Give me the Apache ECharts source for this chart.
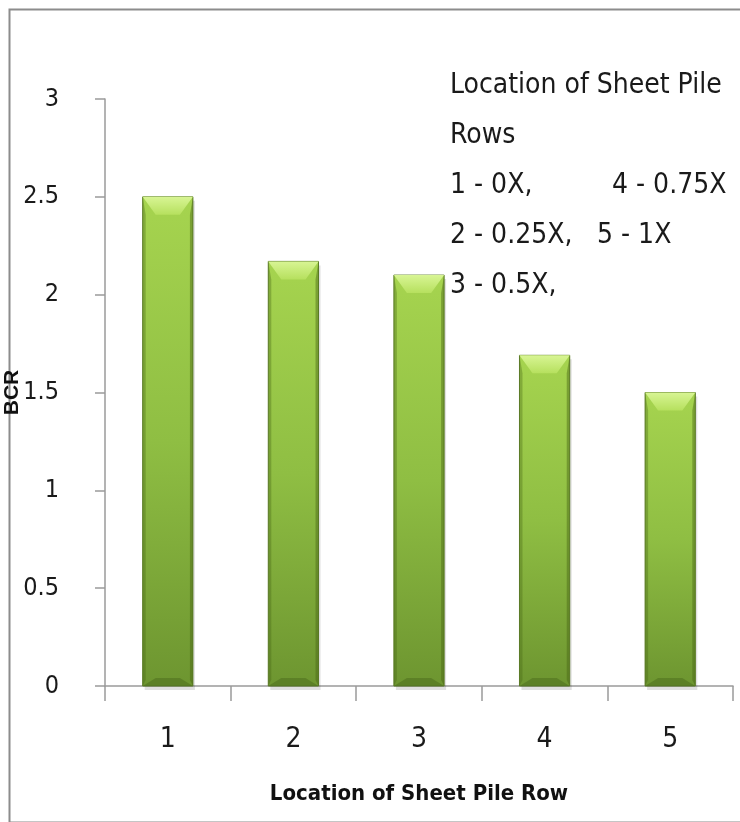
<!DOCTYPE html>
<html>
<head>
<meta charset="utf-8">
<script src="https://cdn.jsdelivr.net/npm/echarts@6/dist/echarts.min.js"></script>
<style>
  html, body { margin: 0; padding: 0; background: #ffffff; }
  #chart { width: 740px; height: 822px; }
</style>
</head>
<body>
<div id="chart"></div>
<script>
// ---- data ----
const categories = ['1', '2', '3', '4', '5'];
const bcrValues = [2.5, 2.17, 2.1, 1.69, 1.5];
const yMin = 0;
const yMax = 3;
const yInterval = 0.5;
const xAxisTitle = 'Location of Sheet Pile Row';
const yAxisTitle = 'BCR';
const noteLeftLines = ['Location of Sheet Pile', 'Rows', '1 - 0X,', '2 - 0.25X,', '3 - 0.5X,'];
const noteRightLines = ['4 - 0.75X', '5 - 1X'];

const FONT = "'Liberation Sans Narrow', 'DejaVu Sans Condensed', 'Liberation Sans', sans-serif";

const chart = echarts.init(document.getElementById('chart'));

function renderBar(params, api) {
  const idx = api.value(0);
  const v = api.value(1);
  const top = api.coord([idx, v]);
  const base = api.coord([idx, 0]);
  const band = api.size([1, 0])[0];
  const w = band * 0.4;
  const x0 = top[0] - w / 2, x1 = top[0] + w / 2;
  const yT = top[1], yB = base[1];
  const bev = 18, inset = 13, side = 3;
  return {
    type: 'group',
    children: [
      { type: 'rect', shape: { x: x0 + 2, y: yT + 4, width: w, height: yB - yT },
        style: { fill: 'rgba(0,0,0,0.12)' } },
      { type: 'rect', shape: { x: x0, y: yT, width: w, height: yB - yT },
        style: { fill: new echarts.graphic.LinearGradient(0, 0, 0, 1, [
          { offset: 0, color: '#a6d44f' }, { offset: 0.5, color: '#8fbe43' }, { offset: 1, color: '#6d9530' }]),
          stroke: '#5f7f2a', lineWidth: 1 } },
      { type: 'polygon', shape: { points: [[x0, yT], [x0 + side, yT + bev], [x0 + side, yB - 6], [x0, yB]] },
        style: { fill: 'rgba(70,100,20,0.35)' } },
      { type: 'polygon', shape: { points: [[x1, yT], [x1 - side, yT + bev], [x1 - side, yB - 6], [x1, yB]] },
        style: { fill: 'rgba(70,100,20,0.45)' } },
      { type: 'polygon', shape: { points: [[x0, yT], [x1, yT], [x1 - inset, yT + bev], [x0 + inset, yT + bev]] },
        style: { fill: new echarts.graphic.LinearGradient(0, 0, 0, 1, [
          { offset: 0, color: '#d8f594' }, { offset: 1, color: '#b6e05e' }]) } },
      { type: 'polygon', shape: { points: [[x0, yB], [x1, yB], [x1 - inset, yB - 8], [x0 + inset, yB - 8]] },
        style: { fill: 'rgba(60,90,20,0.35)' } }
    ]
  };
}

const noteGraphics = [];
noteLeftLines.forEach(function (t, i) {
  noteGraphics.push({ type: 'text', left: 450, top: 72 + i * 50,
    style: { text: t, font: '28px ' + FONT, fill: '#1a1a1a' } });
});
noteRightLines.forEach(function (t, i) {
  noteGraphics.push({ type: 'text', left: i === 0 ? 612 : 597, top: 172 + i * 50,
    style: { text: t, font: '28px ' + FONT, fill: '#1a1a1a' } });
});

chart.setOption({
  backgroundColor: '#ffffff',
  animation: false,
  grid: { left: 105, right: 7, top: 99, bottom: 136, containLabel: false, outerBoundsMode: 'none' },
  xAxis: {
    type: 'category',
    data: categories,
    boundaryGap: true,
    axisLine: { lineStyle: { color: '#9a9a9a', width: 1.5 } },
    axisTick: { show: true, alignWithLabel: false, length: 15, lineStyle: { color: '#9a9a9a', width: 1.5 } },
    axisLabel: { margin: 40, fontSize: 28, fontFamily: FONT, color: '#1a1a1a' },
    name: xAxisTitle,
    nameLocation: 'middle',
    nameGap: 97,
    nameMoveOverlap: false,
    nameTextStyle: { fontSize: 22, fontWeight: 'bold', fontFamily: FONT, color: '#111' }
  },
  yAxis: {
    type: 'value',
    min: yMin,
    max: yMax,
    interval: yInterval,
    axisLine: { show: true, lineStyle: { color: '#9a9a9a', width: 1.5 } },
    axisTick: { show: true, length: 10, lineStyle: { color: '#9a9a9a', width: 1.5 } },
    splitLine: { show: false },
    axisLabel: { margin: 46, fontSize: 25, fontFamily: FONT, color: '#1a1a1a' },
    name: yAxisTitle,
    nameLocation: 'middle',
    nameGap: 82,
    nameRotate: 90,
    nameMoveOverlap: false,
    nameTextStyle: { fontSize: 21, fontWeight: 'bold', fontFamily: "'Liberation Sans', Arial, sans-serif", color: '#111' }
  },
  graphic: [
    { type: 'rect', left: 7, top: 7, shape: { width: 760, height: 813 },
      style: { fill: 'none', stroke: '#8c8c8c', lineWidth: 2 }, silent: true }
  ].concat(noteGraphics),
  series: [{
    type: 'custom',
    renderItem: renderBar,
    encode: { x: 0, y: 1 },
    data: categories.map(function (c, i) { return [i, bcrValues[i]]; })
  }]
});
</script>
</body>
</html>
